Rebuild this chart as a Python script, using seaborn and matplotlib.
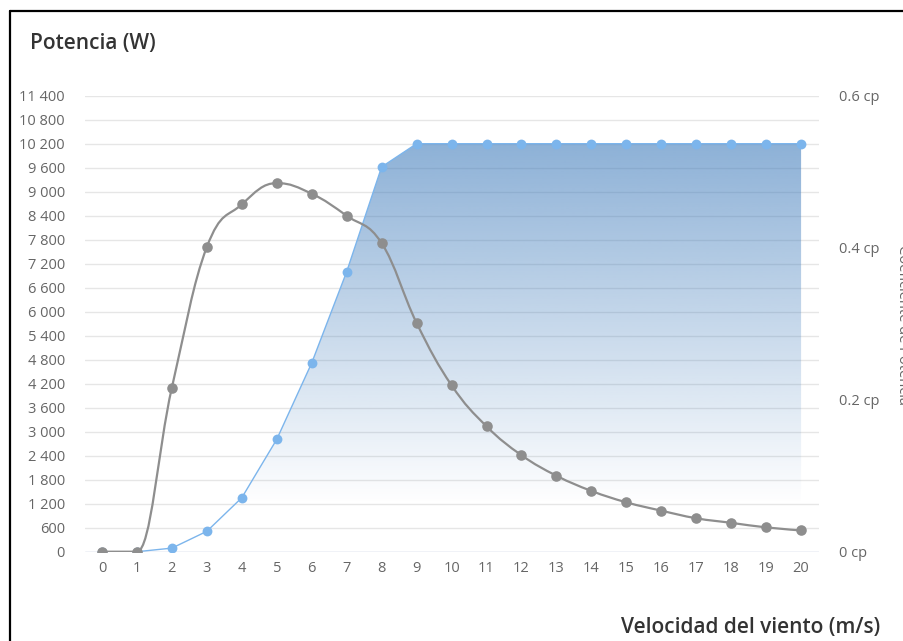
import numpy as np
import pandas as pd
import seaborn as sns
import matplotlib.pyplot as plt
from matplotlib.path import Path
from matplotlib.patches import PathPatch
from matplotlib.lines import Line2D

# data
wind_speed = list(range(0, 21))
power_w = [0, 0, 90, 510, 1350, 2810, 4720, 7000, 9620, 10200, 10200,
           10200, 10200, 10200, 10200, 10200, 10200, 10200, 10200, 10200, 10200]
cp = [0, 0, 0.216, 0.401, 0.457, 0.485, 0.471, 0.442, 0.406, 0.301, 0.219,
      0.165, 0.127, 0.100, 0.080, 0.065, 0.054, 0.044, 0.038, 0.032, 0.028]
power_ticks = list(range(0, 11401, 600))
cp_ticks = [0, 0.2, 0.4, 0.6]
cp_tick_labels = ['0 cp', '0.2 cp', '0.4 cp', '0.6 cp']

BLUE = '#7cb5ec'
GREY = '#8e8e8e'
LABEL = '#666666'


def spline_path(xs, ys, smoothing=1.5):
    # bezier control points the same way a highcharts "spline" series does it
    n = len(xs)
    left = [None] * n
    right = [None] * n
    d = smoothing + 1
    for i in range(1, n - 1):
        px, py = xs[i], ys[i]
        lx, ly = xs[i - 1], ys[i - 1]
        nx, ny = xs[i + 1], ys[i + 1]
        lcx, lcy = (smoothing * px + lx) / d, (smoothing * py + ly) / d
        rcx, rcy = (smoothing * px + nx) / d, (smoothing * py + ny) / d
        corr = (rcy - lcy) * (rcx - px) / (rcx - lcx) + py - rcy
        lcy += corr
        rcy += corr
        if lcy > ly and lcy > py:
            lcy = max(ly, py); rcy = 2 * py - lcy
        elif lcy < ly and lcy < py:
            lcy = min(ly, py); rcy = 2 * py - lcy
        if rcy > ny and rcy > py:
            rcy = max(ny, py); lcy = 2 * py - rcy
        elif rcy < ny and rcy < py:
            rcy = min(ny, py); lcy = 2 * py - rcy
        left[i] = (lcx, lcy)
        right[i] = (rcx, rcy)
    verts = [(xs[0], ys[0])]
    codes = [Path.MOVETO]
    for i in range(1, n):
        verts += [right[i - 1] or (xs[i - 1], ys[i - 1]),
                  left[i] or (xs[i], ys[i]),
                  (xs[i], ys[i])]
        codes += [Path.CURVE4] * 3
    return Path(verts, codes)


sns.set_theme(style='white')
plt.rcParams['font.family'] = ['Open Sans', 'DejaVu Sans']

df = pd.DataFrame({'v': wind_speed, 'p': power_w, 'cp': cp})

fig = plt.figure(figsize=(9.04, 6.41), dpi=100)
ax = fig.add_axes([0.0935, 0.1393, 0.812, 0.7114])
ax2 = ax.twinx()

# gradient area under the power curve
poly = ax.fill_between(df['v'], df['p'], 0, facecolor='none', edgecolor='none')
top = max(power_w)
yy = np.linspace(0, top, 256)
alpha = np.clip((yy - 1200) / (top - 1200), 0, 1) * 0.6
grad = np.zeros((256, 1, 4))
grad[..., 0] = 65 / 255
grad[..., 1] = 125 / 255
grad[..., 2] = 188 / 255
grad[..., 3] = alpha[:, None]
img = ax.imshow(grad, extent=[min(wind_speed), max(wind_speed), 0, top],
                origin='lower', aspect='auto', zorder=1, interpolation='bilinear')
img.set_clip_path(poly.get_paths()[0], ax.transData)

sns.lineplot(data=df, x='v', y='p', ax=ax, color=BLUE, lw=1, zorder=3)
sns.scatterplot(data=df, x='v', y='p', ax=ax, color=BLUE, s=50,
                linewidth=0, zorder=4, legend=False)

ax2.add_patch(PathPatch(spline_path(wind_speed, cp), fill=False,
                        edgecolor=GREY, lw=1.6, zorder=3))
sns.scatterplot(data=df, x='v', y='cp', ax=ax2, color=GREY, s=58,
                linewidth=0, zorder=4, legend=False)

ax.set_xlim(-0.5, 20.5)
ax.set_ylim(0, 11400)
ax2.set_ylim(0, 0.6)

ax.set_xticks(wind_speed)
ax.set_xticklabels([str(v) for v in wind_speed])
ax.set_yticks(power_ticks)
ax.set_yticklabels([f'{t:,}'.replace(',', ' ') for t in power_ticks])
ax2.set_yticks(cp_ticks)
ax2.set_yticklabels(cp_tick_labels)

ax.grid(axis='y', color='#e6e6e6', lw=1)
ax.set_axisbelow(True)
ax.axhline(0, color='#ccd6eb', lw=1, zorder=2)
for a in (ax, ax2):
    for s in a.spines.values():
        s.set_visible(False)
    a.set_xlabel('')
    a.set_ylabel('')
ax.tick_params(axis='y', length=0, pad=14, labelsize=10.5, labelcolor=LABEL)
ax.tick_params(axis='x', length=0, pad=7, labelsize=10.5, labelcolor=LABEL)
ax2.tick_params(axis='y', length=0, pad=15, labelsize=10.5, labelcolor=LABEL)

fig.text(30 / 904, 1 - 43 / 641, 'Potencia (W)', fontsize=15, color='#333333',
         ha='left', va='center', fontweight='semibold')
fig.text(880 / 904, 1 - 627 / 641, 'Velocidad del viento (m/s)', fontsize=15,
         color='#333333', ha='right', va='center', fontweight='semibold')
fig.text(895 / 904, 1 - 325 / 641, 'Coeficiente de Potencia', fontsize=10.5,
         color=LABEL, rotation=-90, ha='left', va='center')

# black frame on the top and left edges
fig.add_artist(Line2D([10 / 904, 1], [1 - 10.5 / 641] * 2, color='black', lw=1.6,
                      transform=fig.transFigure))
fig.add_artist(Line2D([10 / 904] * 2, [0, 1 - 10.5 / 641], color='black', lw=1.6,
                      transform=fig.transFigure))

fig.savefig('out.png', dpi=100)
